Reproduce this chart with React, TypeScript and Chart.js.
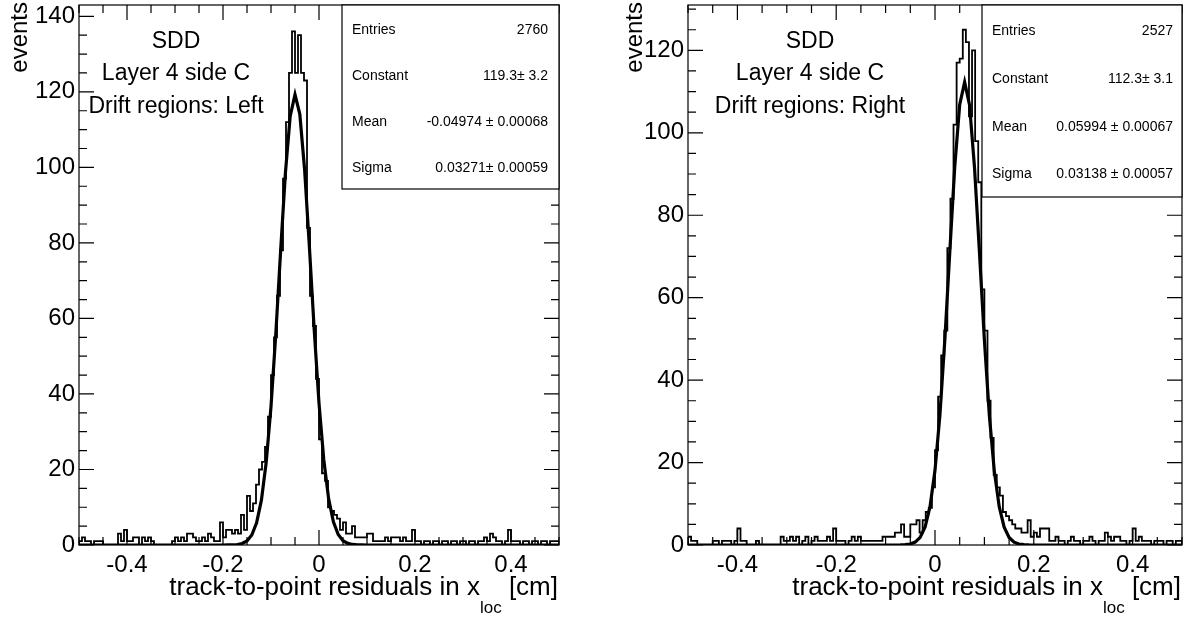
import React, { useEffect, useRef } from "react";
import { Chart, registerables } from "chart.js";

Chart.register(...registerables);

// ---------- data ----------
const X_MIN = -0.5;
const X_MAX = 0.5;
const BIN_WIDTH = 0.00625; // 160 bins

const LEFT_COUNTS = [
  1, 2, 1, 1, 0, 1, 1, 1, 0, 0,
  0, 0, 0, 3, 1, 4, 1, 1, 2, 2,
  0, 2, 1, 2, 1, 0, 0, 0, 0, 0,
  0, 1, 2, 1, 2, 1, 3, 3, 2, 1,
  1, 2, 1, 3, 2, 1, 1, 6, 2, 4,
  4, 3, 4, 3, 8, 4, 13, 9, 11, 16,
  20, 22, 26, 34, 45, 55, 66, 78, 97, 112,
  125, 136, 125, 135, 125, 123, 84, 66, 58, 44,
  28, 19, 17, 10, 9, 8, 7, 4, 6, 3,
  3, 5, 2, 2, 2, 2, 3, 3, 1, 1,
  1, 1, 2, 1, 2, 2, 2, 1, 2, 1,
  1, 4, 1, 1, 0, 1, 1, 0, 1, 1,
  0, 1, 1, 0, 1, 1, 0, 1, 1, 0,
  1, 1, 0, 1, 1, 2, 1, 3, 2, 1,
  1, 0, 1, 4, 1, 1, 1, 0, 1, 1,
  0, 1, 1, 0, 1, 1, 0, 1, 1, 1,
];

const RIGHT_COUNTS = [
  2, 1, 1, 0, 0, 0, 0, 0, 1, 1,
  0, 1, 1, 1, 0, 1, 4, 1, 1, 0,
  0, 0, 1, 0, 0, 0, 0, 0, 0, 0,
  2, 1, 1, 2, 1, 2, 0, 1, 2, 0,
  1, 2, 1, 1, 1, 2, 1, 4, 1, 1,
  1, 0, 1, 2, 1, 2, 1, 1, 1, 1,
  1, 1, 1, 2, 2, 2, 2, 3, 3, 5,
  2, 2, 5, 5, 6, 3, 6, 8, 9, 14,
  23, 36, 46, 52, 72, 84, 102, 117, 118, 125,
  122, 104, 120, 98, 88, 62, 52, 35, 26, 17,
  14, 12, 8, 7, 6, 5, 4, 4, 3, 3,
  6, 2, 3, 2, 4, 4, 4, 1, 1, 2,
  1, 1, 0, 1, 2, 1, 1, 0, 1, 1,
  2, 1, 0, 1, 1, 3, 2, 1, 2, 2,
  1, 1, 0, 1, 4, 1, 2, 1, 1, 1,
  0, 1, 1, 1, 0, 1, 1, 0, 1, 1,
];

const X_TICKS = [-0.4, -0.2, 0, 0.2, 0.4];
const X_TICK_LABELS = ["-0.4", "-0.2", "0", "0.2", "0.4"];
const LEFT_Y_TICKS = [0, 20, 40, 60, 80, 100, 120, 140];
const RIGHT_Y_TICKS = [0, 20, 40, 60, 80, 100, 120];
const LEFT_Y_MAX = 143;
const RIGHT_Y_MAX = 131;

const LEFT_FIT = { constant: 119.3, mean: -0.04974, sigma: 0.03271 };
const RIGHT_FIT = { constant: 112.3, mean: 0.05994, sigma: 0.03138 };

const STATS_LABELS = ["Entries", "Constant", "Mean", "Sigma"];
const LEFT_STATS_VALUES = ["2760", "119.3\u00b1 3.2", "-0.04974 \u00b1 0.00068", "0.03271\u00b1 0.00059"];
const RIGHT_STATS_VALUES = ["2527", "112.3\u00b1 3.1", "0.05994 \u00b1 0.00067", "0.03138 \u00b1 0.00057"];

const LEFT_NOTES = ["SDD", "Layer 4 side C", "Drift regions: Left"];
const RIGHT_NOTES = ["SDD", "Layer 4 side C", "Drift regions: Right"];

const Y_TITLE = "events";
const X_TITLE_MAIN = "track-to-point residuals in x";
const X_TITLE_SUB = "loc";
const X_TITLE_UNIT = " [cm]";

const FONT = "'Liberation Sans', Arial, Helvetica, sans-serif";

// ---------- helpers ----------
function histPoints(counts: number[]) {
  const pts: { x: number; y: number }[] = [{ x: X_MIN, y: 0 }];
  counts.forEach((c, i) => pts.push({ x: X_MIN + i * BIN_WIDTH, y: c }));
  pts.push({ x: X_MIN + counts.length * BIN_WIDTH, y: counts[counts.length - 1] });
  pts.push({ x: X_MIN + counts.length * BIN_WIDTH, y: 0 });
  return pts;
}

function fitPoints(f: { constant: number; mean: number; sigma: number }) {
  const n = 100;
  const pts: { x: number; y: number }[] = [];
  for (let i = 0; i <= n; i++) {
    const x = X_MIN + ((X_MAX - X_MIN) * i) / n;
    const z = (x - f.mean) / f.sigma;
    pts.push({ x, y: f.constant * Math.exp(-0.5 * z * z) });
  }
  return pts;
}

type PanelProps = {
  counts: number[];
  fit: { constant: number; mean: number; sigma: number };
  yTicks: number[];
  yMax: number;
  statsValues: string[];
  notes: string[];
  left: number;
  width: number;
  areaLeft: number;
  padRight: number;
  box: { left: number; top: number; right: number; bottom: number; rows: number[]; labelPad: number; valuePad: number };
  notesX: number;
  yTitleX: number;
};

function Panel(p: PanelProps) {
  const ref = useRef<HTMLCanvasElement | null>(null);
  useEffect(() => {
    const canvas = ref.current;
    if (!canvas) return;
    const framePlugin = {
      id: "rootFrame",
      afterDraw(chart: any) {
        const { ctx, chartArea: a } = chart;
        const xs = chart.scales.x;
        const ys = chart.scales.y;
        ctx.save();
        ctx.strokeStyle = "#000";
        ctx.fillStyle = "#000";
        // frame
        ctx.lineWidth = 1.2;
        ctx.strokeRect(a.left, a.top, a.right - a.left, a.bottom - a.top);
        // x ticks
        for (let k = 0; k <= 20; k++) {
          const v = X_MIN + k * 0.05;
          const major = X_TICKS.some((t) => Math.abs(t - v) < 1e-9);
          const len = major ? 15 : 8;
          const px = xs.getPixelForValue(v);
          ctx.beginPath();
          ctx.moveTo(px, a.bottom);
          ctx.lineTo(px, a.bottom - len);
          ctx.moveTo(px, a.top);
          ctx.lineTo(px, a.top + len);
          ctx.stroke();
        }
        // y ticks
        for (let v = 0; v <= p.yMax; v += 5) {
          const major = p.yTicks.includes(v);
          const len = major ? 15 : 8;
          const py = ys.getPixelForValue(v);
          ctx.beginPath();
          ctx.moveTo(a.left, py);
          ctx.lineTo(a.left + len, py);
          ctx.moveTo(a.right, py);
          ctx.lineTo(a.right - len, py);
          ctx.stroke();
        }
        // stats box
        const b = p.box;
        ctx.fillStyle = "#fff";
        ctx.fillRect(b.left, b.top, b.right - b.left, b.bottom - b.top);
        ctx.lineWidth = 1.2;
        ctx.strokeRect(b.left, b.top, b.right - b.left, b.bottom - b.top);
        ctx.fillStyle = "#000";
        ctx.font = `14px ${FONT}`;
        ctx.textBaseline = "middle";
        STATS_LABELS.forEach((lab, i) => {
          ctx.textAlign = "left";
          ctx.fillText(lab, b.left + b.labelPad, b.rows[i]);
          ctx.textAlign = "right";
          ctx.fillText(p.statsValues[i], b.right - b.valuePad, b.rows[i]);
        });
        // notes
        ctx.font = `23px ${FONT}`;
        ctx.textAlign = "center";
        ctx.textBaseline = "alphabetic";
        const noteBase = [48, 80, 113];
        p.notes.forEach((t, i) => ctx.fillText(t, p.notesX, noteBase[i]));
        // y title
        ctx.save();
        ctx.font = `24px ${FONT}`;
        ctx.translate(p.yTitleX, 2);
        ctx.rotate(-Math.PI / 2);
        ctx.textAlign = "right";
        ctx.textBaseline = "alphabetic";
        ctx.fillText(Y_TITLE, 0, 0);
        ctx.restore();
        // x title (right aligned to frame)
        ctx.textBaseline = "alphabetic";
        ctx.textAlign = "left";
        ctx.font = `26px ${FONT}`;
        const wMain = ctx.measureText(X_TITLE_MAIN).width;
        const wUnit = ctx.measureText(X_TITLE_UNIT).width;
        ctx.font = `17px ${FONT}`;
        const wSub = ctx.measureText(X_TITLE_SUB).width;
        const end = a.right - 1;
        const start = end - wUnit - wSub - wMain;
        ctx.font = `26px ${FONT}`;
        ctx.fillText(X_TITLE_MAIN, start, 595);
        ctx.fillText(X_TITLE_UNIT, start + wMain + wSub, 595);
        ctx.font = `17px ${FONT}`;
        ctx.fillText(X_TITLE_SUB, start + wMain, 613);
        ctx.restore();
      },
    };

    const chart = new Chart(canvas, {
      type: "line",
      data: {
        datasets: [
          {
            data: histPoints(p.counts),
            borderColor: "#000",
            borderWidth: 1.8,
            pointRadius: 0,
            stepped: "before",
            fill: false,
            tension: 0,
          },
          {
            data: fitPoints(p.fit),
            borderColor: "#000",
            borderWidth: 3.2,
            pointRadius: 0,
            fill: false,
            tension: 0,
          },
        ],
      },
      options: {
        animation: false,
        responsive: false,
        events: [],
        parsing: false,
        layout: { padding: { left: 0, right: p.padRight, top: 5, bottom: 0 } },
        plugins: { legend: { display: false }, tooltip: { enabled: false } },
        scales: {
          x: {
            type: "linear",
            min: X_MIN,
            max: X_MAX,
            grid: { display: false, drawTicks: false },
            border: { display: false },
            ticks: {
              color: "#000",
              font: { family: FONT, size: 24 },
              padding: 6,
              maxRotation: 0,
              autoSkip: false,
              includeBounds: false,
              callback: (_v: any, i: number) => X_TICK_LABELS[i],
            },
            afterBuildTicks: (s: any) => {
              s.ticks = X_TICKS.map((v) => ({ value: v }));
            },
            afterFit: (s: any) => {
              s.height = 72;
              s.paddingLeft = 0;
              s.paddingRight = 0;
            },
          },
          y: {
            type: "linear",
            min: 0,
            max: p.yMax,
            grid: { display: false, drawTicks: false },
            border: { display: false },
            ticks: {
              color: "#000",
              font: { family: FONT, size: 24 },
              padding: 4,
              autoSkip: false,
              includeBounds: false,
              callback: (v: any) => String(v),
            },
            afterBuildTicks: (s: any) => {
              s.ticks = p.yTicks.map((v) => ({ value: v }));
            },
            afterFit: (s: any) => {
              s.width = p.areaLeft;
              s.paddingTop = 0;
              s.paddingBottom = 0;
            },
          },
        },
      } as any,
      plugins: [framePlugin],
    });
    return () => chart.destroy();
  }, []);

  return (
    <div style={{ position: "absolute", left: p.left, top: 0, width: p.width, height: 617 }}>
      <canvas ref={ref} width={p.width} height={617} />
    </div>
  );
}

export default function App() {
  return (
    <div style={{ position: "absolute", left: 0, top: 0, width: 1191, height: 617, background: "#fff", overflow: "hidden" }}>
      <Panel
        counts={LEFT_COUNTS}
        fit={LEFT_FIT}
        yTicks={LEFT_Y_TICKS}
        yMax={LEFT_Y_MAX}
        statsValues={LEFT_STATS_VALUES}
        notes={LEFT_NOTES}
        left={0}
        width={595}
        areaLeft={79}
        padRight={36}
        box={{ left: 342, top: 5, right: 559, bottom: 189, rows: [30, 76, 122, 168], labelPad: 10, valuePad: 11 }}
        notesX={176}
        yTitleX={27}
      />
      <Panel
        counts={RIGHT_COUNTS}
        fit={RIGHT_FIT}
        yTicks={RIGHT_Y_TICKS}
        yMax={RIGHT_Y_MAX}
        statsValues={RIGHT_STATS_VALUES}
        notes={RIGHT_NOTES}
        left={595}
        width={596}
        areaLeft={93}
        padRight={9}
        box={{ left: 387, top: 5, right: 587, bottom: 197, rows: [31, 79, 127, 174], labelPad: 10, valuePad: 9 }}
        notesX={215}
        yTitleX={47}
      />
    </div>
  );
}
